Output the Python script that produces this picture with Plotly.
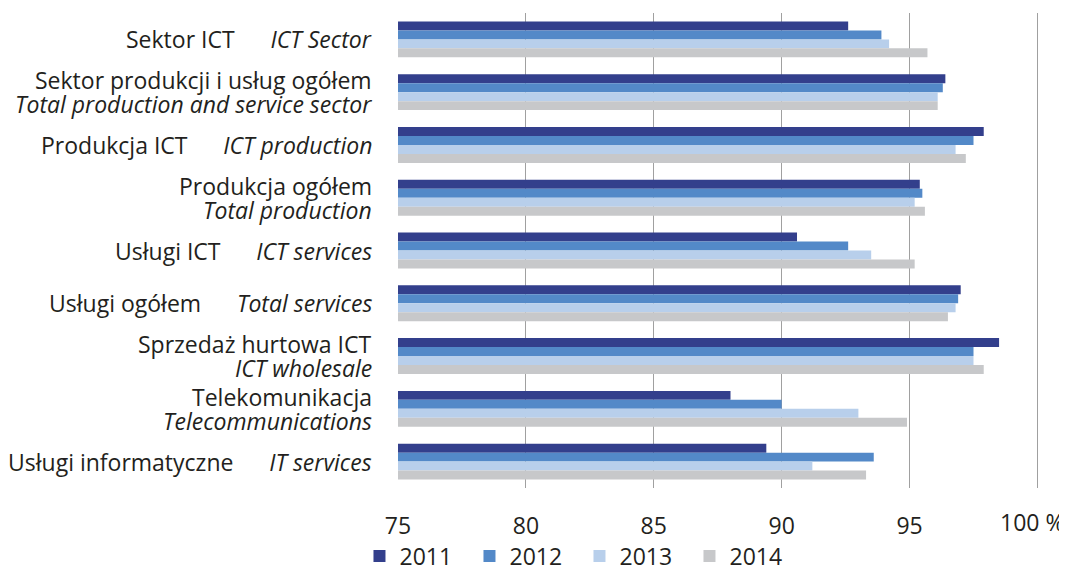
import plotly.graph_objects as go

NB = "\u00a0"

categories_pl = [
    "Sektor ICT", "Sektor produkcji i usług ogółem", "Produkcja ICT",
    "Produkcja ogółem", "Usługi ICT", "Usługi ogółem",
    "Sprzedaż hurtowa ICT", "Telekomunikacja", "Usługi informatyczne",
]
categories_en = [
    "ICT Sector", "Total production and service sector", "ICT production",
    "Total production", "ICT services", "Total services",
    "ICT wholesale", "Telecommunications", "IT services",
]
two_line = [False, True, False, True, False, False, True, True, False]

years = ["2011", "2012", "2013", "2014"]
v2011 = [92.6, 96.4, 97.9, 95.4, 90.6, 97.0, 98.5, 88.0, 89.4]
v2012 = [93.9, 96.3, 97.5, 95.5, 92.6, 96.9, 97.5, 90.0, 93.6]
v2013 = [94.2, 96.1, 96.8, 95.2, 93.5, 96.8, 97.5, 93.0, 91.2]
v2014 = [95.7, 96.1, 97.2, 95.6, 95.2, 96.5, 97.9, 94.9, 93.3]
series = [v2011, v2012, v2013, v2014]
colors = ["#333F8C", "#5389C8", "#B8CFEB", "#C7C8CA"]

tick_vals = [75, 80, 85, 90, 95, 100]
tick_text = ["75", "80", "85", "90", "95", "100 %"]

FONT = "Open Sans, sans-serif"
FS = 23
TXT = "#231F20"

fig = go.Figure()
for name, vals, col in zip(years, series, colors):
    fig.add_trace(go.Bar(
        y=categories_pl, x=[v - 75 for v in vals], base=75,
        orientation="h", name=name, marker=dict(color=col, line=dict(width=0)),
    ))

# category labels (Polish + italic English)
for pl, en, tl in zip(categories_pl, categories_en, two_line):
    common = dict(xref="paper", x=0, xanchor="right", xshift=-24, yref="y", y=pl,
                  showarrow=False, font=dict(family=FONT, size=FS, color=TXT))
    if tl:
        fig.add_annotation(text=pl, yshift=12, **common)
        fig.add_annotation(text=f"<i>{en}</i>", yshift=-12, **common)
    else:
        fig.add_annotation(text=f"{pl}{NB*6}<i>{en}</i>", **common)

# last tick label drawn as annotation so it stays inside the page (as in the original)
fig.add_annotation(text=tick_text[-1], xref="x", x=tick_vals[-1], xanchor="center",
                   xshift=-5, yref="paper", y=0, yanchor="top", yshift=-16,
                   showarrow=False, font=dict(family=FONT, size=FS, color=TXT))

fig.update_layout(
    width=1059, height=563,
    margin=dict(l=390, r=27, t=5, b=83, autoexpand=False),
    paper_bgcolor="white", plot_bgcolor="white",
    barmode="group", bargap=0.32, bargroupgap=0,
    font=dict(family=FONT, size=FS, color=TXT),
    showlegend=True,
    legend=dict(orientation="h", xanchor="left", x=-0.06, yanchor="top", y=-0.098,
                font=dict(size=FS), itemwidth=30, traceorder="normal",
                entrywidth=65, entrywidthmode="pixels"),
)
fig.update_xaxes(range=[75, 100.1], tickvals=tick_vals,
                 ticktext=tick_text[:-1] + [""],
                 showgrid=True, gridcolor="#A0A0A0", gridwidth=1, automargin=False,
                 zeroline=False, showline=False, ticks="", ticklabelstandoff=22)
fig.update_yaxes(autorange="reversed", showticklabels=False, automargin=False,
                 showgrid=False, showline=False, ticks="")

fig.write_html("out.html")
